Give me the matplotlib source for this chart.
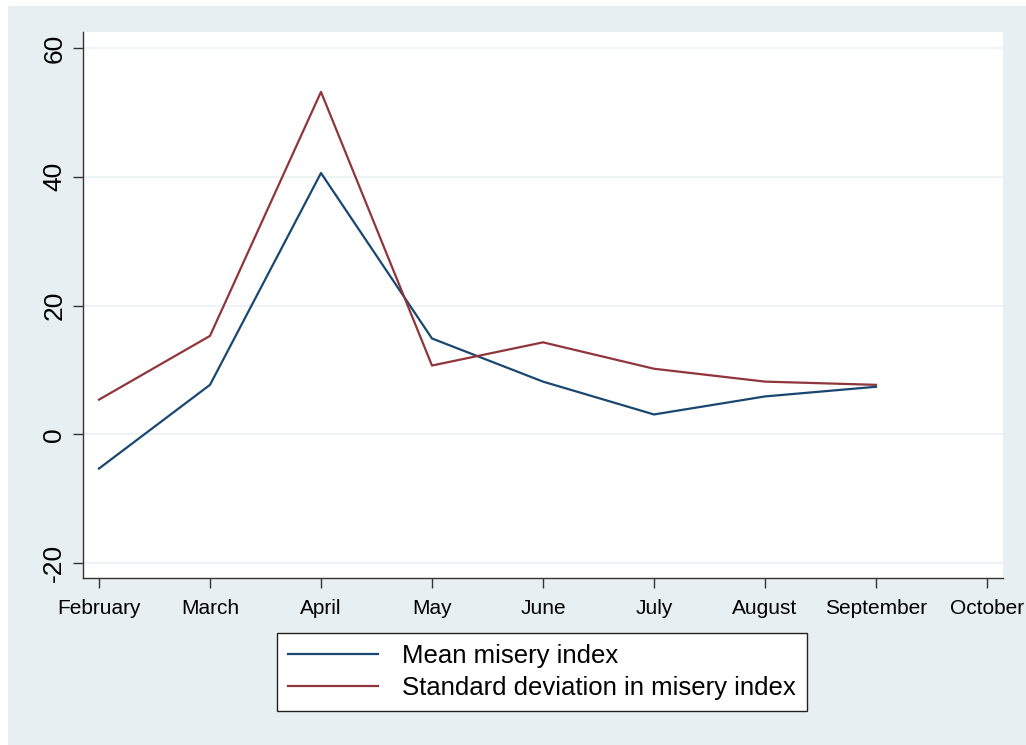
import matplotlib.pyplot as plt
from matplotlib.patches import Rectangle

plt.rcParams['font.family'] = ['Liberation Sans', 'DejaVu Sans']

months = ['February', 'March', 'April', 'May', 'June', 'July', 'August', 'September', 'October']
mean_misery = [-5.3, 7.7, 40.6, 14.9, 8.2, 3.1, 5.9, 7.4]
sd_misery = [5.4, 15.3, 53.2, 10.7, 14.3, 10.2, 8.2, 7.7]

bg = '#e8eff2'
navy = '#1a476f'
maroon = '#90353b'

fig = plt.figure(figsize=(10.26, 7.45), dpi=100)
fig.patch.set_facecolor('white')
# shaded graph region (leaves a thin white strip top and left)
fig.patches.append(Rectangle((8 / 1026, 0), 1 - 8 / 1026, 1 - 6 / 745,
                             transform=fig.transFigure, facecolor=bg,
                             edgecolor='none', zorder=-10))

ax = fig.add_axes([83 / 1026, 1 - 578 / 745, 920 / 1026, 546 / 745])
ax.set_facecolor('white')

x = list(range(len(mean_misery)))
ax.plot(x, mean_misery, color=navy, lw=1.6, label='Mean misery index')
ax.plot(x, sd_misery, color=maroon, lw=1.6, label='Standard deviation in misery index')

ax.set_xlim(-0.144, 8.144)
ax.set_ylim(-22.3, 62.5)
ax.set_xticks(range(len(months)))
ax.set_xticklabels(months, fontsize=15)
ax.set_yticks([-20, 0, 20, 40, 60])
ax.set_yticklabels(['-20', '0', '20', '40', '60'], fontsize=19, rotation=90, va='center')

ax.grid(axis='y', color='#eaf2f3', lw=1.2)
ax.set_axisbelow(True)
for s in ['top', 'right']:
    ax.spines[s].set_visible(False)
for s in ['left', 'bottom']:
    ax.spines[s].set_color('#333333')
    ax.spines[s].set_linewidth(1.0)
ax.tick_params(direction='out', length=7, width=1.0, color='#333333')
ax.tick_params(axis='x', pad=8)
ax.tick_params(axis='y', pad=5)

leg = fig.legend(loc='center', bbox_to_anchor=(542 / 1026, 1 - 672 / 745),
                 fontsize=18.5, frameon=True, fancybox=False, framealpha=1,
                 handlelength=3.5, handletextpad=0.93, borderpad=0.42,
                 labelspacing=0.3, borderaxespad=0)
leg.get_frame().set_edgecolor('#222222')
leg.get_frame().set_linewidth(1.0)
leg.get_frame().set_facecolor('white')

fig.savefig('out.png', dpi=100, facecolor=fig.get_facecolor())
